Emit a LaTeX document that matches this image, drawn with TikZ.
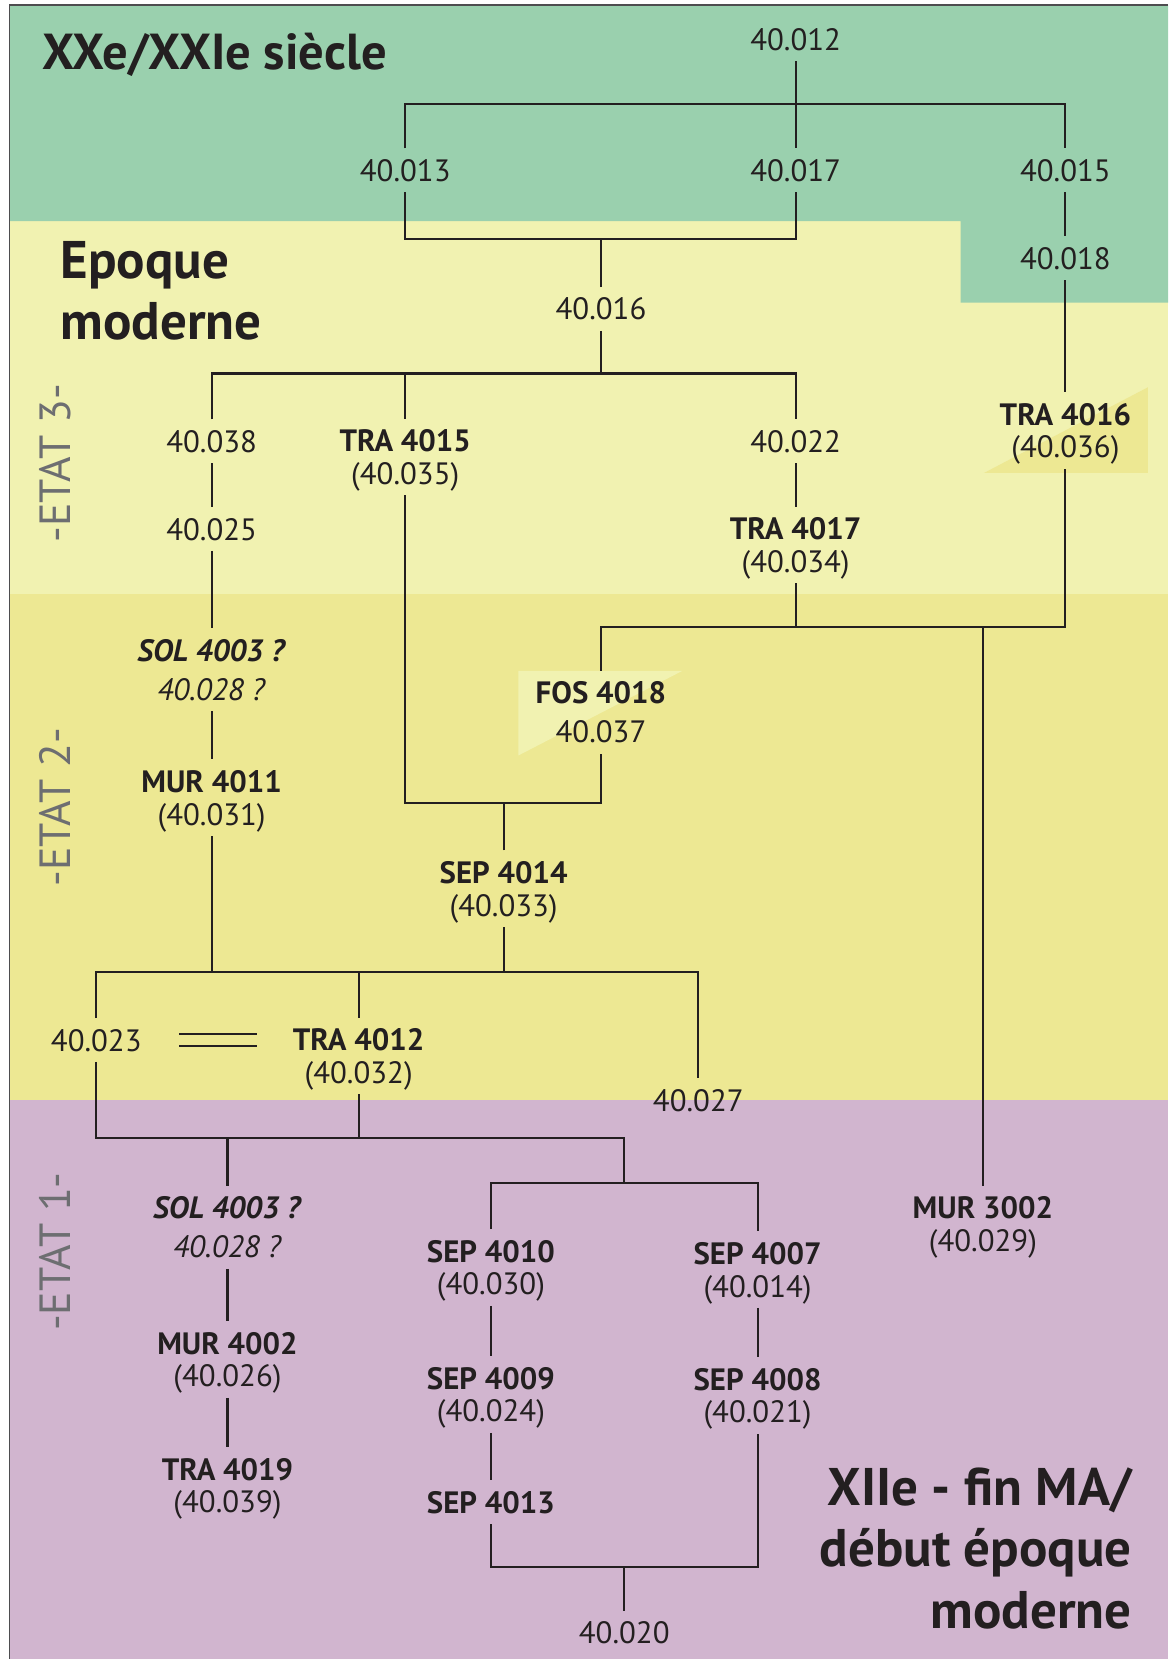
\documentclass[tikz,border=0pt]{standalone}
\usepackage{fontspec}
\setmainfont{PT Sans}
\usetikzlibrary{positioning}
\definecolor{ink}{HTML}{231F20}
\definecolor{framecol}{HTML}{4D4D4F}
\definecolor{sieclecol}{HTML}{9AD0AE}
\definecolor{etat3col}{HTML}{F1F2B1}
\definecolor{etat2col}{HTML}{EDE893}
\definecolor{etat1col}{HTML}{D1B5CF}
\definecolor{etatgray}{HTML}{6D6E71}

\begin{document}
\begin{tikzpicture}[
    x=0.02cm, y=-0.02cm,
    every node/.style={text=ink},
    num/.style={font=\fontsize{16.6}{17.6}\selectfont, align=center, text depth=0pt, inner xsep=0.1cm, inner ysep=0.2cm},
    loose/.style={num, font=\fontsize{16.6}{21}\selectfont},
    era/.style={font=\fontsize{28.5}{33}\selectfont\bfseries, inner sep=0pt},
    etat/.style={font=\fontsize{23.5}{23.5}\selectfont, text=etatgray, rotate=90, inner sep=0pt},
    link/.style={draw=ink, line width=1.1pt},
]
\useasboundingbox (0,0) rectangle (1104,1568);

% ---------------------------------------------------------------- bands
\fill[etat1col] (9,1040) rectangle (1104,1568);
\fill[etat2col] (9,561) rectangle (1104,1040);
\fill[etat3col] (9,209) rectangle (1104,561);
\fill[sieclecol] (9,5) -- (1104,5) -- (1104,286) -- (908,286) -- (908,209) -- (9,209) -- cycle;
\fill[etat2col] (930,447) -- (1085,447) -- (1085,366) -- cycle;
\fill[etat3col] (490,634) -- (645,634) -- (490,714) -- cycle;
\draw[framecol, line width=0.9pt] (9,1568) -- (9,5) -- (1104,5);

\node[era, font=\fontsize{27.2}{33}\selectfont\bfseries, anchor=base west] (t20) at (40,66) {XXe/XXIe siècle};
\node[era, anchor=south west, align=left] (tmod) at (57,322) {Epoque\\moderne};
\node[era, anchor=south east, align=right] (t12) at (1070,1540) {XIIe - fin MA/\\début époque\\moderne};

\node[etat] (e3) at (52,438) {-ETAT 3-};
\node[etat] (e2) at (52,763) {-ETAT 2-};
\node[etat] (e1) at (52,1183) {-ETAT 1-};

% ---------------------------------------------------------------- units
\node[num] (n12) at (752,37) {40.012};
\node[num] (n13) at (383,161) {40.013};
\node[num] (n17) at (752,161) {40.017};
\node[num] (n15) at (1007,161) {40.015};
\node[num] (n18) at (1007,244) {40.018};
\node[num] (n16) at (568,292) {40.016};
\node[num] (n38) at (200,417) {40.038};
\node[num] (tra4015) at (383,432) {\textbf{TRA 4015}\\(40.035)};
\node[num] (n22) at (752,417) {40.022};
\node[num] (tra4016) at (1007,407) {\textbf{TRA 4016}\\(40.036)};
\node[num] (n25) at (200,500) {40.025};
\node[num] (tra4017) at (752,515) {\textbf{TRA 4017}\\(40.034)};
\node[loose] (sol1) at (200,633) {\textbf{\textit{SOL 4003 ?}}\\\textit{40.028 ?}};
\node[loose] (fos4018) at (568,673) {\textbf{FOS 4018}\\40.037};
\node[num] (mur4011) at (200,754) {\textbf{MUR 4011}\\(40.031)};
\node[num] (sep4014) at (476,840) {\textbf{SEP 4014}\\(40.033)};
\node[num] (n23) at (91,983) {40.023};
\node[num] (tra4012) at (339,998) {\textbf{TRA 4012}\\(40.032)};
\node[num] (n27) at (660,1040) {40.027};
\node[loose] (sol2) at (215,1160) {\textbf{\textit{SOL 4003 ?}}\\\textit{40.028 ?}};
\node[num] (mur4002) at (215,1285) {\textbf{MUR 4002}\\(40.026)};
\node[num] (tra4019) at (215,1404) {\textbf{TRA 4019}\\(40.039)};
\node[num] (sep4010) at (464,1198) {\textbf{SEP 4010}\\(40.030)};
\node[num] (sep4009) at (464,1318) {\textbf{SEP 4009}\\(40.024)};
\node[num] (sep4013) at (464,1420) {\textbf{SEP 4013}};
\node[num] (sep4007) at (716,1200) {\textbf{SEP 4007}\\(40.014)};
\node[num] (sep4008) at (716,1319) {\textbf{SEP 4008}\\(40.021)};
\node[num] (mur3002) at (929,1157) {\textbf{MUR 3002}\\(40.029)};
\node[num] (n20) at (590,1543) {40.020};

% ---------------------------------------------------------------- junctions
\coordinate (j12) at (752,98);
\coordinate (j16a) at (568,226);
\coordinate (j16b) at (568,353);
\coordinate (j17) at (752,593);
\coordinate (j14) at (476,759);
\coordinate (j23) at (476,919);
\coordinate (j2) at (590,1076);
\coordinate (j3) at (590,1118);
\coordinate (j20) at (590,1481);

% ---------------------------------------------------------------- links
\draw[link] (n12.south) -- (n17.north);
\draw[link] (n13.north) |- (j12) -| (n15.north);
\draw[link] (n15.south) -- (n18.north);
\draw[link] (n13.south) |- (j16a) -| (n17.south);
\draw[link] (n16.north) -- (j16a);
\draw[link] (n16.south) -- (j16b);
\draw[link] (n38.north) |- (j16b) -| (n22.north);
\draw[link] (tra4015.north) -- (tra4015.north |- j16b);
\draw[link] (n38.south) -- (n25.north);
\draw[link] (n25.south) -- (sol1.north);
\draw[link] (sol1.south) -- (mur4011.north);
\draw[link] (n22.south) -- (tra4017.north);
\draw[link] (n18.south) -- (tra4016.north);
\draw[link] (tra4017.south) -- (j17);
\draw[link] (fos4018.north) |- (j17) -| (tra4016.south);
\draw[link] (mur3002.north) -- (mur3002.north |- j17);
\draw[link] (tra4015.south) |- (j14) -| (fos4018.south);
\draw[link] (sep4014.north) -- (j14);
\draw[link] (sep4014.south) -- (j23);
\draw[link] (mur4011.south) -- (mur4011.south |- j23);
\draw[link] (n23.north) |- (j23) -| (n27.north);
\draw[link] (tra4012.north) -- (tra4012.north |- j23);
\draw[link, double=etat2col, double distance=0.18cm, shorten <=0.6cm, shorten >=0.58cm]
    (n23.east) -- (n23.east -| tra4012.west);
\draw[link] (n23.south) |- (j2) -- (j3);
\draw[link] (tra4012.south) -- (tra4012.south |- j2);
\draw[link] (sol2.north) -- (sol2.north |- j2);
\draw[link] (sep4010.north) |- (j3) -| (sep4007.north);
\draw[link] (sol2.south) -- (mur4002.north);
\draw[link] (mur4002.south) -- (tra4019.north);
\draw[link] (sep4010.south) -- (sep4009.north);
\draw[link] (sep4009.south) -- (sep4013.north);
\draw[link] (sep4007.south) -- (sep4008.north);
\draw[link] (sep4013.south) |- (j20) -| (sep4008.south);
\draw[link] (n20.north) -- (j20);

\end{tikzpicture}
\end{document}
